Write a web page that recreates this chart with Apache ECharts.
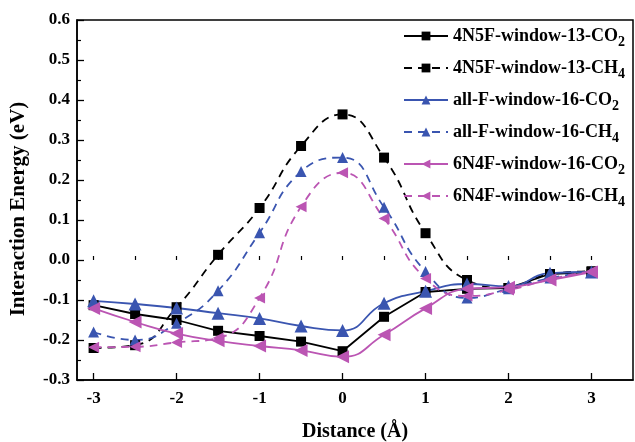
<!DOCTYPE html>
<html>
<head>
<meta charset="utf-8">
<script src="https://cdn.jsdelivr.net/npm/echarts@6/dist/echarts.min.js"></script>
<style>html,body{margin:0;padding:0;background:#fff;}#c{width:635px;height:442px;}</style>
</head>
<body>
<div id="c"></div>
<script>
const distances = [-3, -2.5, -2, -1.5, -1, -0.5, 0, 0.5, 1, 1.5, 2, 2.5, 3];
const xTickLabels = [-3, -2, -1, 0, 1, 2, 3];
const xMinorTicks = [-3, -2.5, -2, -1.5, -1, -0.5, 0, 0.5, 1, 1.5, 2, 2.5, 3];
const seriesNames = [
  '4N5F-window-13-CO2', '4N5F-window-13-CH4',
  'all-F-window-16-CO2', 'all-F-window-16-CH4',
  '6N4F-window-16-CO2', '6N4F-window-16-CH4'
];
const n4f5CO2 = [-0.113, -0.135, -0.150, -0.177, -0.190, -0.204, -0.228, -0.142, -0.080, -0.072, -0.070, -0.035, -0.030];
const n4f5CH4 = [-0.220, -0.213, -0.118, 0.013, 0.130, 0.285, 0.364, 0.256, 0.067, -0.050, -0.070, -0.035, -0.028];
const allFCO2 = [-0.102, -0.110, -0.120, -0.133, -0.146, -0.165, -0.176, -0.108, -0.078, -0.060, -0.066, -0.033, -0.030];
const allFCH4 = [-0.180, -0.200, -0.158, -0.077, 0.068, 0.221, 0.256, 0.132, -0.029, -0.095, -0.072, -0.045, -0.030];
const n6f4CO2 = [-0.121, -0.155, -0.184, -0.202, -0.215, -0.226, -0.242, -0.187, -0.121, -0.072, -0.068, -0.050, -0.030];
const n6f4CH4 = [-0.218, -0.217, -0.206, -0.195, -0.095, 0.133, 0.218, 0.104, -0.046, -0.090, -0.075, -0.048, -0.028];

const FONT = '"Liberation Serif", "Times New Roman", serif';
const BLACK = '#000000', BLUE = '#3a55b0', MAG = '#bb55b3';

function pair(vals) { return distances.map((x, i) => [x, vals[i]]); }

function mk(name, vals, color, dashed, symbol, rot, size, smooth) {
  return {
    name: name, type: 'line', data: pair(vals),
    xAxisIndex: 0, yAxisIndex: 0,
    smooth: smooth, symbol: symbol, symbolSize: size, symbolRotate: rot,
    lineStyle: { color: color, width: 1.8, type: dashed ? [8, 6] : 'solid' },
    itemStyle: { color: color },
    emphasis: { disabled: true }
  };
}

const chart = echarts.init(document.getElementById('c'), null, { renderer: 'canvas' });
chart.setOption({
  animation: false,
  backgroundColor: '#fff',
  grid: { left: 77, right: 2, top: 20, bottom: 62, show: true, borderColor: '#000', borderWidth: 1.5, backgroundColor: 'transparent', containLabel: false, outerBoundsMode: 'none' },
  legend: {
    orient: 'vertical', left: 398, top: 22, itemWidth: 44, itemHeight: 11, itemGap: 10,
    data: seriesNames,
    textStyle: {
      fontFamily: FONT, fontWeight: 'bold', fontSize: 18, color: '#000',
      rich: {
        b: { fontFamily: FONT, fontWeight: 'bold', fontSize: 18, color: '#000' },
        s: { fontFamily: FONT, fontWeight: 'bold', fontSize: 14, color: '#000', padding: [12, 0, 0, 0] }
      }
    },
    formatter: function (name) {
      const m = name.match(/^(.*?)(\d)$/);
      return '{b|' + m[1] + '}{s|' + m[2] + '}';
    }
  },
  xAxis: [{
    type: 'value', min: -3.2, max: 3.5,
    name: 'Distance (Å)', nameLocation: 'middle', nameGap: 42,
    nameTextStyle: { fontFamily: FONT, fontWeight: 'bold', fontSize: 20, color: '#000' },
    axisLine: { onZero: false, lineStyle: { color: '#000', width: 1.5 } },
    axisTick: { inside: true, length: 7, lineStyle: { color: '#000', width: 1.3 }, customValues: xTickLabels },
    axisLabel: { customValues: xTickLabels, margin: 10, fontFamily: FONT, fontWeight: 'bold', fontSize: 17, color: '#000', formatter: v => String(v) },
    splitLine: { show: false }
  }, {
    type: 'value', min: -3.2, max: 3.5, position: 'bottom',
    axisLine: { show: false },
    axisTick: { inside: true, length: 4, lineStyle: { color: '#000', width: 1.2 }, customValues: xMinorTicks },
    axisLabel: { show: false }, splitLine: { show: false }
  }],
  yAxis: {
    type: 'value', min: -0.3, max: 0.6, interval: 0.1,
    name: 'Interaction Energy (eV)', nameLocation: 'middle', nameGap: 48, nameRotate: 90,
    nameTextStyle: { fontFamily: FONT, fontWeight: 'bold', fontSize: 21, color: '#000', padding: [0, 18, 0, 0] },
    axisLine: { onZero: false, lineStyle: { color: '#000', width: 1.5 } },
    axisTick: { inside: true, length: 7, lineStyle: { color: '#000', width: 1.3 } },
    minorTick: { show: true, splitNumber: 2, length: 4, lineStyle: { color: '#000', width: 1.2 } },
    axisLabel: { margin: 7, fontFamily: FONT, fontWeight: 'bold', fontSize: 17, color: '#000', formatter: v => v.toFixed(1) },
    splitLine: { show: false }
  },
  series: [
    mk(seriesNames[0], n4f5CO2, BLACK, false, 'rect', 0, 10, false),
    mk(seriesNames[1], n4f5CH4, BLACK, true, 'rect', 0, 10, true),
    mk(seriesNames[2], allFCO2, BLUE, false, 'triangle', 0, 13, true),
    mk(seriesNames[3], allFCH4, BLUE, true, 'triangle', 0, 11, true),
    mk(seriesNames[4], n6f4CO2, MAG, false, 'triangle', 90, 13, true),
    mk(seriesNames[5], n6f4CH4, MAG, true, 'triangle', 90, 11, true)
  ]
});
</script>
</body>
</html>
